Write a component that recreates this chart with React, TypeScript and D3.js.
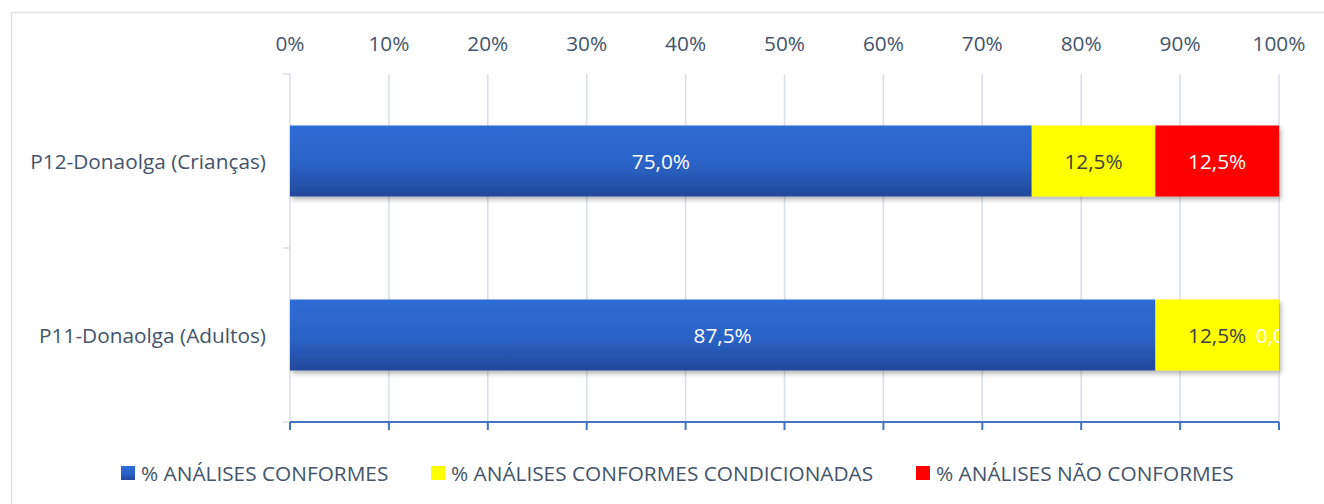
import React, { useRef, useEffect } from 'react';
import * as d3 from 'd3';

const categories = ['P12-Donaolga (Crianças)', 'P11-Donaolga (Adultos)'];
const seriesNames = ['% ANÁLISES CONFORMES', '% ANÁLISES CONFORMES CONDICIONADAS', '% ANÁLISES NÃO CONFORMES'];
const conformes = [75.0, 87.5];
const condicionadas = [12.5, 12.5];
const naoConformes = [12.5, 0.0];
const xTicks = [0, 10, 20, 30, 40, 50, 60, 70, 80, 90, 100];

const FONT = '"Open Sans", sans-serif';
const FS = 20.8;
const TXT = '#44546a';

const App = () => {
  const svgRef = useRef<SVGSVGElement>(null);

  useEffect(() => {
    const W = 1324, H = 504;
    const left = 290, right = 1279, top = 74, bottom = 422;
    const svg = d3.select(svgRef.current).attr('width', W).attr('height', H);
    svg.selectAll('*').remove();

    const rows = categories.map((c, i) => ({
      cat: c, s0: conformes[i], s1: condicionadas[i], s2: naoConformes[i],
    }));
    const stack = d3.stack<any>().keys(['s0', 's1', 's2'])(rows);

    const x = d3.scaleLinear().domain([0, 100]).range([left, right]);
    const y = d3.scaleBand().domain(categories).range([top, bottom])
      .paddingInner(0.592).paddingOuter(0.296);

    const defs = svg.append('defs');
    const grad = defs.append('linearGradient').attr('id', 'blueGrad')
      .attr('x1', 0).attr('y1', 0).attr('x2', 0).attr('y2', 1);
    grad.append('stop').attr('offset', '0%').attr('stop-color', '#2f6cd6');
    grad.append('stop').attr('offset', '55%').attr('stop-color', '#2b62c6');
    grad.append('stop').attr('offset', '100%').attr('stop-color', '#22499a');
    const f = defs.append('filter').attr('id', 'shadow')
      .attr('x', '-5%').attr('y', '-20%').attr('width', '110%').attr('height', '160%');
    f.append('feDropShadow').attr('dx', 2).attr('dy', 3).attr('stdDeviation', 2.5)
      .attr('flood-color', '#000').attr('flood-opacity', 0.3);
    defs.append('clipPath').attr('id', 'plotClip').append('rect')
      .attr('x', left).attr('y', top).attr('width', right - left).attr('height', bottom - top);

    // outer border
    svg.append('rect').attr('x', 11.5).attr('y', 12.5).attr('width', 1330).attr('height', 510)
      .attr('fill', '#fff').attr('stroke', '#dfe3ea').attr('stroke-width', 1.5);

    // gridlines
    svg.append('g').selectAll('line').data(xTicks.slice(1)).join('line')
      .attr('x1', d => x(d)).attr('x2', d => x(d)).attr('y1', top).attr('y2', bottom)
      .attr('stroke', '#dadfe7').attr('stroke-width', 1.5);

    // left axis
    const la = svg.append('g');
    la.append('line').attr('x1', left).attr('x2', left).attr('y1', top).attr('y2', bottom)
      .attr('stroke', '#dadfe7').attr('stroke-width', 1.5);
    const bounds = [top, y(categories[1])! - y.step() * 0.296, bottom];
    la.selectAll('.tk').data(bounds).join('line').attr('class', 'tk')
      .attr('x1', left - 7).attr('x2', left).attr('y1', d => d).attr('y2', d => d)
      .attr('stroke', '#dadfe7').attr('stroke-width', 1.5);
    la.selectAll('text').data(categories).join('text')
      .attr('x', 266).attr('y', d => y(d)! + y.bandwidth() / 2)
      .attr('text-anchor', 'end').attr('dominant-baseline', 'central')
      .attr('font-family', FONT).attr('font-size', FS).attr('fill', TXT)
      .text(d => d);

    // top tick labels
    svg.append('g').selectAll('text').data(xTicks).join('text')
      .attr('x', d => x(d)).attr('y', 43)
      .attr('text-anchor', 'middle').attr('dominant-baseline', 'central')
      .attr('font-family', FONT).attr('font-size', FS).attr('fill', TXT)
      .text(d => `${d}%`);

    // bars
    const fills = ['url(#blueGrad)', '#ffff00', '#ff0000'];
    const labelColors = ['#ffffff', '#404040', '#ffffff'];
    const barG = svg.append('g');
    stack.forEach((layer, li) => {
      barG.append('g').selectAll('rect').data(layer).join('rect')
        .attr('x', d => x(d[0])).attr('width', d => x(d[1]) - x(d[0]))
        .attr('y', d => y(d.data.cat)!).attr('height', y.bandwidth())
        .attr('fill', fills[li]).attr('filter', 'url(#shadow)');
    });
    const lblG = svg.append('g').attr('clip-path', 'url(#plotClip)');
    stack.forEach((layer, li) => {
      lblG.append('g').selectAll('text').data(layer).join('text')
        .attr('x', d => (x(d[0]) + x(d[1])) / 2)
        .attr('y', d => y(d.data.cat)! + y.bandwidth() / 2)
        .attr('text-anchor', 'middle').attr('dominant-baseline', 'central')
        .attr('font-family', FONT).attr('font-size', FS)
        .attr('fill', d => (d[1] - d[0] === 0 ? '#ffffff' : labelColors[li]))
        .text(d => (d[1] - d[0]).toFixed(1).replace('.', ',') + '%');
    });

    // bottom axis (blue)
    const axisBlue = '#4472c4';
    const ba = svg.append('g');
    ba.append('line').attr('x1', left).attr('x2', right).attr('y1', bottom).attr('y2', bottom)
      .attr('stroke', axisBlue).attr('stroke-width', 2);
    ba.selectAll('line.tk').data(xTicks).join('line').attr('class', 'tk')
      .attr('x1', d => x(d)).attr('x2', d => x(d)).attr('y1', bottom).attr('y2', bottom + 8)
      .attr('stroke', axisBlue).attr('stroke-width', 2);

    // legend
    const legendX = [121, 431, 916];
    const lg = svg.append('g');
    seriesNames.forEach((name, i) => {
      lg.append('rect').attr('x', legendX[i]).attr('y', 466).attr('width', 14).attr('height', 14)
        .attr('fill', fills[i]);
      lg.append('text').attr('x', legendX[i] + 20).attr('y', 473)
        .attr('dominant-baseline', 'central')
        .attr('font-family', FONT).attr('font-size', FS).attr('fill', TXT)
        .text(name);
    });
  }, []);

  return <svg ref={svgRef} style={{ position: 'absolute', left: 0, top: 0, display: 'block' }}></svg>;
};

export default App;
